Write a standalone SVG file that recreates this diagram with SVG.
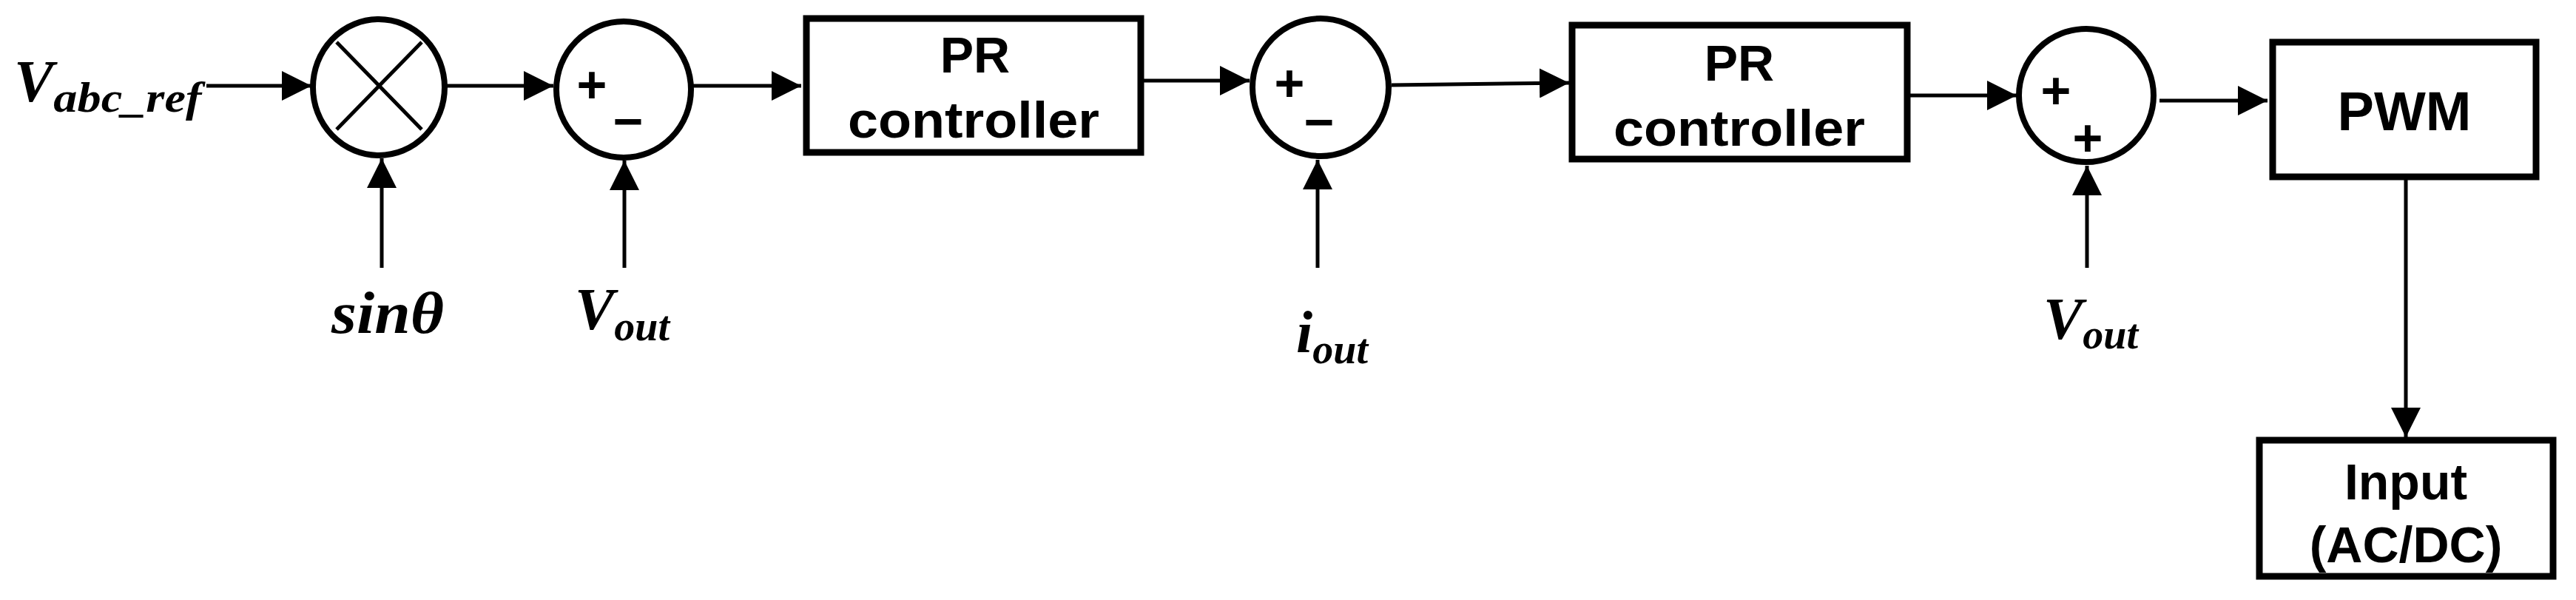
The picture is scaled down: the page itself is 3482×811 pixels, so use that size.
<svg xmlns="http://www.w3.org/2000/svg" width="3482" height="811" viewBox="0 0 3482 811">
<style>
.box{fill:#fff;stroke:#000;stroke-width:9}
.sum{fill:#fff;stroke:#000;stroke-width:8}
.c{fill:none;stroke:#000;stroke-width:5}
.t{font-family:"Liberation Sans",Arial,sans-serif;font-weight:bold;text-anchor:middle;fill:#000}
.m{font-family:"Liberation Serif","Times New Roman",serif;font-style:italic;font-weight:bold;fill:#000}
.sg{font-family:"Liberation Sans",Arial,sans-serif;font-weight:bold;font-size:70px;text-anchor:middle}
</style>
<defs>
<marker id="a" markerUnits="userSpaceOnUse" markerWidth="40" markerHeight="40" refX="40" refY="20" orient="auto"><path d="M0,0 L40,20 L0,40 z" fill="#000"/></marker>
</defs>
<g id="connectors">
<line class="c" x1="279" y1="116" x2="421" y2="116" marker-end="url(#a)"/>
<line class="c" x1="604" y1="116" x2="748" y2="116" marker-end="url(#a)"/>
<line class="c" x1="937" y1="116" x2="1083" y2="116" marker-end="url(#a)"/>
<line class="c" x1="1546" y1="109" x2="1689" y2="109" marker-end="url(#a)"/>
<line class="c" x1="1881" y1="115" x2="2121" y2="112" marker-end="url(#a)"/>
<line class="c" x1="2582" y1="129" x2="2726" y2="129" marker-end="url(#a)"/>
<line class="c" x1="2919" y1="136" x2="3065" y2="136" marker-end="url(#a)"/>
<line class="c" x1="516" y1="362" x2="516" y2="214" marker-end="url(#a)"/>
<line class="c" x1="844" y1="362" x2="844" y2="217" marker-end="url(#a)"/>
<line class="c" x1="1781" y1="362" x2="1781" y2="216" marker-end="url(#a)"/>
<line class="c" x1="2821" y1="362" x2="2821" y2="224" marker-end="url(#a)"/>
<line class="c" x1="3252" y1="243" x2="3252" y2="591" marker-end="url(#a)"/>
</g>
<g id="vabc"><text class="m" x="19" y="137" font-size="80">V<tspan font-size="56" dy="14" textLength="200" lengthAdjust="spacingAndGlyphs">abc_ref</tspan></text></g>
<g id="mult">
<ellipse class="sum" cx="512" cy="118" rx="89" ry="92"/>
<line class="c" x1="455" y1="57" x2="570" y2="175"/>
<line class="c" x1="570" y1="57" x2="455" y2="175"/>
</g>
<g id="sum1">
<ellipse class="sum" cx="843" cy="121" rx="91" ry="92"/>
<text class="sg" x="800" y="139">+</text><text class="sg" x="849" y="188">−</text>
</g>
<g id="pr1">
<rect class="box" x="1090" y="25" width="452" height="181"/>
<text class="t" x="1318" y="98" font-size="68">PR</text>
<text class="t" x="1316" y="186" font-size="68" textLength="340" lengthAdjust="spacingAndGlyphs">controller</text>
</g>
<g id="sum2">
<ellipse class="sum" cx="1785" cy="118" rx="92" ry="93"/>
<text class="sg" x="1743" y="137">+</text><text class="sg" x="1783" y="189">−</text>
</g>
<g id="pr2">
<rect class="box" x="2125" y="34" width="453" height="181"/>
<text class="t" x="2351" y="109" font-size="68">PR</text>
<text class="t" x="2351" y="197" font-size="68" textLength="340" lengthAdjust="spacingAndGlyphs">controller</text>
</g>
<g id="sum3">
<ellipse class="sum" cx="2820" cy="129" rx="91" ry="90"/>
<text class="sg" x="2779" y="147">+</text><text class="sg" x="2822" y="211">+</text>
</g>
<g id="pwm">
<rect class="box" x="3072" y="57" width="356" height="182"/>
<text class="t" x="3250" y="176" font-size="74">PWM</text>
</g>
<g id="input">
<rect class="box" x="3054" y="595" width="397" height="184"/>
<text class="t" x="3252" y="675" font-size="68">Input</text>
<text class="t" x="3252" y="760" font-size="68">(AC/DC)</text>
</g>
<g id="labels">
<text class="m" x="448" y="450" font-size="80" textLength="152" lengthAdjust="spacingAndGlyphs">sinθ</text>
<text class="m" x="777" y="445" font-size="80">V<tspan font-size="56" dy="15">out</tspan></text>
<text class="m" x="1752" y="476" font-size="80">i<tspan font-size="56" dy="15">out</tspan></text>
<text class="m" x="2762" y="458" font-size="80">V<tspan font-size="56" dy="13">out</tspan></text>
</g>
</svg>
